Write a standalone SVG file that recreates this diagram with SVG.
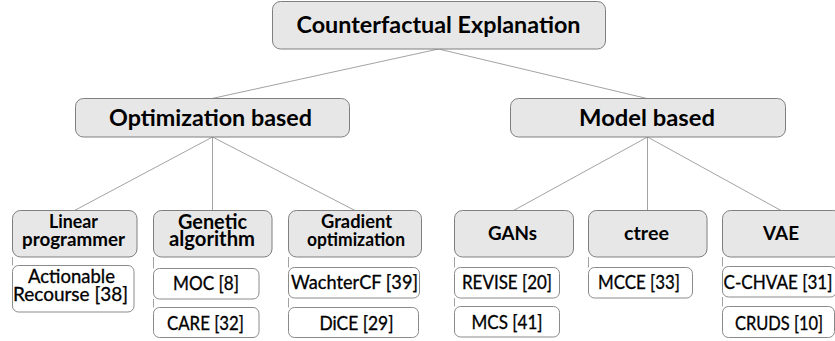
<svg xmlns="http://www.w3.org/2000/svg" width="835" height="341" viewBox="0 0 835 341">
  <style>
    .hdr { fill: #e7e7e7; stroke: #7f7f7f; stroke-width: 1; }
    .leaf { fill: #ffffff; stroke: #8a8a8a; stroke-width: 1; }
    .edge { stroke: #a3a3a3; stroke-width: 1; fill: none; }
    text { font-family: Lato, "Liberation Sans", sans-serif; fill: #000; text-anchor: middle; }
    .t1 { font-size: 22px; font-weight: bold; }
    .t3 { font-size: 18px; font-weight: bold; }
    .t3b { font-size: 20px; font-weight: bold; }
    .lf { font-size: 18.5px; stroke: #000; stroke-width: 0.3px; }
  </style>
  <rect width="835" height="341" fill="#ffffff"/>

  <!-- connectors -->
  <g id="connectors">
    <line class="edge" x1="438.5" y1="49" x2="212" y2="98.5"/>
    <line class="edge" x1="438.5" y1="49" x2="647" y2="98.5"/>
    <line class="edge" x1="212.5" y1="137" x2="74.5" y2="210.5"/>
    <line class="edge" x1="212.5" y1="137" x2="212.5" y2="210.5"/>
    <line class="edge" x1="212.5" y1="137" x2="355" y2="210.5"/>
    <line class="edge" x1="647.5" y1="137" x2="513.5" y2="210.5"/>
    <line class="edge" x1="647.5" y1="137" x2="647.5" y2="210.5"/>
    <line class="edge" x1="647.5" y1="137" x2="781" y2="210.5"/>
    <!-- left-edge links from category boxes to their method boxes -->
    <line class="edge" x1="12.5" y1="257" x2="12.5" y2="265.5"/>
    <line class="edge" x1="153.5" y1="257" x2="153.5" y2="268.5"/>
    <line class="edge" x1="153.5" y1="299" x2="153.5" y2="307.5"/>
    <line class="edge" x1="288.5" y1="257" x2="288.5" y2="267.5"/>
    <line class="edge" x1="288.5" y1="298" x2="288.5" y2="307.5"/>
    <line class="edge" x1="454.5" y1="257" x2="454.5" y2="267.5"/>
    <line class="edge" x1="454.5" y1="298" x2="454.5" y2="306.5"/>
    <line class="edge" x1="588.5" y1="257" x2="588.5" y2="267.5"/>
    <line class="edge" x1="722.5" y1="257" x2="722.5" y2="266.5"/>
    <line class="edge" x1="722.5" y1="297" x2="722.5" y2="306.5"/>
  </g>

  <!-- root -->
  <g id="root">
    <rect class="hdr" x="272.5" y="1.5" width="333" height="47.5" rx="8"/>
    <text class="t1" x="438.5" y="33" textLength="284" lengthAdjust="spacingAndGlyphs">Counterfactual Explanation</text>
  </g>

  <!-- second level -->
  <g id="optimization">
    <rect class="hdr" x="75.5" y="98.5" width="274" height="38.5" rx="8"/>
    <text class="t1" x="210.5" y="126" textLength="203" lengthAdjust="spacingAndGlyphs">Optimization based</text>
  </g>
  <g id="model">
    <rect class="hdr" x="510.5" y="98.5" width="275" height="38.5" rx="8"/>
    <text class="t1" x="647" y="126" textLength="136" lengthAdjust="spacingAndGlyphs">Model based</text>
  </g>

  <!-- third level -->
  <g id="linear">
    <rect class="hdr" x="12.5" y="210.5" width="124.5" height="46.5" rx="8"/>
    <text class="t3" x="73.5" y="228" textLength="49" lengthAdjust="spacingAndGlyphs">Linear</text>
    <text class="t3" x="73.5" y="246" textLength="103" lengthAdjust="spacingAndGlyphs">programmer</text>
  </g>
  <g id="genetic">
    <rect class="hdr" x="153.5" y="210.5" width="118.5" height="46.5" rx="8"/>
    <text class="t3b" x="212.5" y="229" textLength="69" lengthAdjust="spacingAndGlyphs">Genetic</text>
    <text class="t3b" x="212" y="246" textLength="86" lengthAdjust="spacingAndGlyphs">algorithm</text>
  </g>
  <g id="gradient">
    <rect class="hdr" x="288.5" y="210.5" width="133" height="46.5" rx="8"/>
    <text class="t3" x="356.5" y="228" textLength="71" lengthAdjust="spacingAndGlyphs">Gradient</text>
    <text class="t3" x="356" y="246" textLength="98" lengthAdjust="spacingAndGlyphs">optimization</text>
  </g>
  <g id="gans">
    <rect class="hdr" x="454.5" y="210.5" width="119" height="46.5" rx="8"/>
    <text class="t3" x="512.5" y="240" textLength="49" lengthAdjust="spacingAndGlyphs">GANs</text>
  </g>
  <g id="ctree">
    <rect class="hdr" x="588.5" y="210.5" width="118.5" height="46.5" rx="8"/>
    <text class="t3" x="646.5" y="240" textLength="45" lengthAdjust="spacingAndGlyphs">ctree</text>
  </g>
  <g id="vae">
    <rect class="hdr" x="722.5" y="210.5" width="119" height="46.5" rx="8"/>
    <text class="t3" x="781" y="240" textLength="36" lengthAdjust="spacingAndGlyphs">VAE</text>
  </g>

  <!-- methods -->
  <g id="actionable-recourse">
    <rect class="leaf" x="12.5" y="265.5" width="121.5" height="46.5" rx="6"/>
    <text class="lf" x="71.5" y="283" textLength="87" lengthAdjust="spacingAndGlyphs">Actionable</text>
    <text class="lf" x="70.5" y="301" textLength="115" lengthAdjust="spacingAndGlyphs">Recourse [38]</text>
  </g>
  <g id="moc">
    <rect class="leaf" x="153.5" y="268.5" width="105.5" height="30.5" rx="6"/>
    <text class="lf" x="206" y="290" textLength="66" lengthAdjust="spacingAndGlyphs">MOC [8]</text>
  </g>
  <g id="care">
    <rect class="leaf" x="153.5" y="307.5" width="105.5" height="30" rx="6"/>
    <text class="lf" x="205.5" y="329.5" textLength="77" lengthAdjust="spacingAndGlyphs">CARE [32]</text>
  </g>
  <g id="wachtercf">
    <rect class="leaf" x="288.5" y="267.5" width="131" height="30.5" rx="6"/>
    <text class="lf" x="354.5" y="289" textLength="127" lengthAdjust="spacingAndGlyphs">WachterCF [39]</text>
  </g>
  <g id="dice">
    <rect class="leaf" x="288.5" y="307.5" width="130" height="30" rx="6"/>
    <text class="lf" x="356.5" y="329.5" textLength="74" lengthAdjust="spacingAndGlyphs">DiCE [29]</text>
  </g>
  <g id="revise">
    <rect class="leaf" x="454.5" y="267.5" width="105" height="30.5" rx="6"/>
    <text class="lf" x="507" y="289" textLength="90" lengthAdjust="spacingAndGlyphs">REVISE [20]</text>
  </g>
  <g id="mcs">
    <rect class="leaf" x="454.5" y="306.5" width="105" height="30.5" rx="6"/>
    <text class="lf" x="507" y="328.5" textLength="71" lengthAdjust="spacingAndGlyphs">MCS [41]</text>
  </g>
  <g id="mcce">
    <rect class="leaf" x="588.5" y="267.5" width="104" height="30.5" rx="6"/>
    <text class="lf" x="639" y="289" textLength="82" lengthAdjust="spacingAndGlyphs">MCCE [33]</text>
  </g>
  <g id="c-chvae">
    <rect class="leaf" x="722.5" y="266.5" width="114" height="30.5" rx="6"/>
    <text class="lf" x="778" y="289" textLength="109" lengthAdjust="spacingAndGlyphs">C-CHVAE [31]</text>
  </g>
  <g id="cruds">
    <rect class="leaf" x="722.5" y="306.5" width="112" height="31" rx="6"/>
    <text class="lf" x="779" y="329.5" textLength="88" lengthAdjust="spacingAndGlyphs">CRUDS [10]</text>
  </g>
</svg>
